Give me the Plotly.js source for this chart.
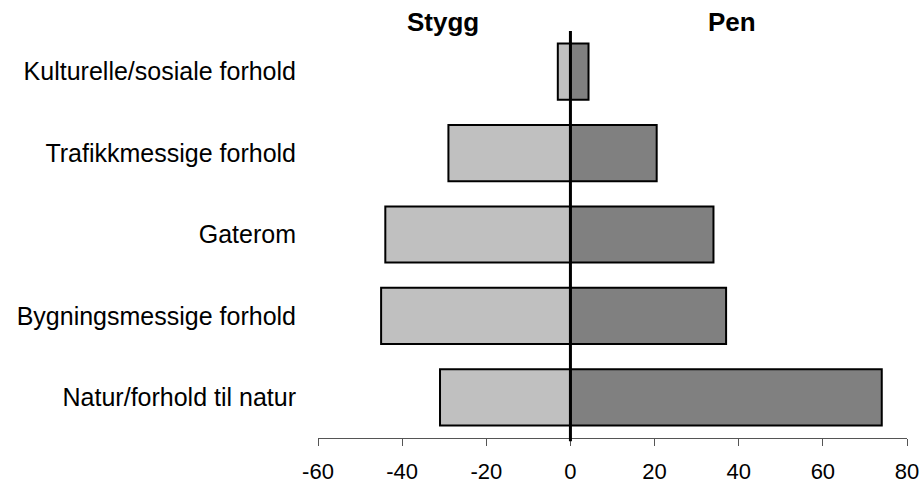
<!DOCTYPE html>
<html>
<head>
<meta charset="utf-8">
<script src="https://cdn.plot.ly/plotly-3.0.1.min.js"></script>
<style>html,body{margin:0;padding:0;background:#fff;}#chart{width:920px;height:486px;}</style>
</head>
<body>
<div id="chart"></div>
<script>
const categories = ["Kulturelle/sosiale forhold", "Trafikkmessige forhold", "Gaterom", "Bygningsmessige forhold", "Natur/forhold til natur"];
const styggValues = [-3, -29, -44, -45, -31];
const penValues = [4.3, 20.5, 34, 37, 74];
const xTickValues = [-60, -40, -20, 0, 20, 40, 60, 80];
const seriesNames = ["Stygg", "Pen"];

const FONT = "Liberation Sans, Arial, sans-serif";

const traces = [
  {
    type: "bar", orientation: "h", name: seriesNames[0],
    y: categories, x: styggValues,
    marker: {color: "#C0C0C0", line: {color: "#000", width: 2}},
    hoverinfo: "x+y"
  },
  {
    type: "bar", orientation: "h", name: seriesNames[1],
    y: categories, x: penValues,
    marker: {color: "#808080", line: {color: "#000", width: 2}},
    hoverinfo: "x+y"
  }
];

const layout = {
  width: 920, height: 486,
  margin: {l: 318, r: 13, t: 31, b: 48},
  paper_bgcolor: "#fff", plot_bgcolor: "#fff",
  barmode: "relative",
  bargap: 0.31,
  showlegend: false,
  font: {family: FONT, color: "#000"},
  xaxis: {
    range: [-60, 80],
    tickvals: xTickValues,
    ticktext: xTickValues.map(String),
    ticks: "outside", ticklen: 7, tickwidth: 1, tickcolor: "#555",
    showline: true, linecolor: "#555", linewidth: 1,
    showgrid: false,
    zeroline: false,
    ticklabelstandoff: 7,
    tickfont: {size: 22, family: FONT, color: "#000"}
  },
  yaxis: {
    type: "category",
    autorange: "reversed",
    showline: false, showgrid: false, zeroline: false,
    ticks: "", ticklabelstandoff: 21,
    tickfont: {size: 25, family: FONT, color: "#000"}
  },
  shapes: [
    {type: "line", xref: "x", yref: "paper", x0: 0, x1: 0, y0: -0.008, y1: 1.0,
     line: {color: "#000", width: 3}}
  ],
  annotations: [
    {xref: "x", yref: "paper", x: -30.2, y: 1.0, yshift: 9.5, yanchor: "middle", showarrow: false,
     text: "<b>" + seriesNames[0] + "</b>", font: {size: 26, family: FONT, color: "#000"}},
    {xref: "x", yref: "paper", x: 38.3, y: 1.0, yshift: 9.5, yanchor: "middle", showarrow: false,
     text: "<b>" + seriesNames[1] + "</b>", font: {size: 26, family: FONT, color: "#000"}}
  ]
};

Plotly.newPlot("chart", traces, layout, {displayModeBar: false, staticPlot: true});
</script>
</body>
</html>
